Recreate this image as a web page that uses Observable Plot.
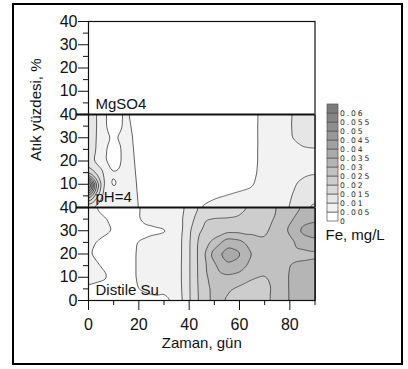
<!DOCTYPE html>
<html>
<head>
<meta charset="utf-8">
<script src="https://cdn.jsdelivr.net/npm/d3@7"></script>
<script src="https://cdn.jsdelivr.net/npm/@observablehq/plot@0.6"></script>
<style>
  body { margin: 0; background: #fff; }
  #wrap { position: relative; width: 408px; height: 369px; }
  #wrap > div.layer { position: absolute; left: 0; top: 0; }
  #border { position: absolute; left: 12px; top: 3px; width: 391px; height: 362px; border: 2px solid #000; box-sizing: border-box; pointer-events: none; }
  #legend g[aria-label="y-axis tick label"] text { letter-spacing: 1.9px; font-family: 'DejaVu Sans', sans-serif; }
</style>
</head>
<body>
<div id="wrap">
  <div class="layer" id="main"></div>
  <div class="layer" id="legend"></div>
  <div id="border"></div>
</div>
<script>
// ---- data ----
const panelNames = ["Distile Su", "pH=4", "MgSO4"];
const panelBase = [0, 40, 80];

const thresholds = [0.005, 0.01, 0.015, 0.02, 0.025, 0.03, 0.035, 0.04, 0.045, 0.05, 0.055, 0.06];
const legendLevels = [0, 0.005, 0.01, 0.015, 0.02, 0.025, 0.03, 0.035, 0.04, 0.045, 0.05, 0.055, 0.06];
const legendLabels = ["0", "0.005", "0.01", "0.015", "0.02", "0.025", "0.03", "0.035", "0.04", "0.045", "0.05", "0.055", "0.06"];

const yMajor = [0, 10, 20, 30, 40, 50, 60, 70, 80, 90, 100, 110, 120];
const yTickLabels = ["0", "10", "20", "30", "40", "10", "20", "30", "40", "10", "20", "30", "40"];
const yMinor = [5, 15, 25, 35, 45, 55, 65, 75, 85, 95, 105, 115];
const xMajor = [0, 20, 40, 60, 80];
const xTickLabels = ["0", "20", "40", "60", "80"];
const xMinor = [10, 30, 50, 70, 90];

const rowsY = [0, 5, 10, 15, 20, 25, 30, 35, 40];

// Distile Su (bottom panel): Fe, mg/L
const xBottom = [0, 5, 10, 15, 20, 25, 30, 34, 37, 40, 43, 46, 50, 55, 60, 65, 70, 75, 80, 85, 90];
const feBottom = [
  [0.0040, 0.0035, 0.0035, 0.0038, 0.0042, 0.0044, 0.0046, 0.0051, 0.0094, 0.0145, 0.0190, 0.0238, 0.0258, 0.0248, 0.0230, 0.0228, 0.0240, 0.0262, 0.0305, 0.0315, 0.0320],
  [0.0045, 0.0040, 0.0038, 0.0039, 0.0051, 0.0056, 0.0052, 0.0075, 0.0096, 0.0145, 0.0193, 0.0235, 0.0260, 0.0255, 0.0240, 0.0230, 0.0235, 0.0265, 0.0305, 0.0315, 0.0320],
  [0.0060, 0.0055, 0.0045, 0.0040, 0.0053, 0.0066, 0.0072, 0.0080, 0.0097, 0.0145, 0.0195, 0.0238, 0.0270, 0.0290, 0.0280, 0.0255, 0.0245, 0.0270, 0.0305, 0.0310, 0.0315],
  [0.0060, 0.0049, 0.0042, 0.0040, 0.0053, 0.0066, 0.0072, 0.0080, 0.0097, 0.0145, 0.0195, 0.0240, 0.0290, 0.0345, 0.0330, 0.0280, 0.0270, 0.0275, 0.0302, 0.0310, 0.0315],
  [0.0052, 0.0043, 0.0038, 0.0040, 0.0053, 0.0065, 0.0070, 0.0078, 0.0096, 0.0145, 0.0195, 0.0245, 0.0335, 0.0375, 0.0360, 0.0298, 0.0275, 0.0270, 0.0285, 0.0285, 0.0290],
  [0.0056, 0.0045, 0.0040, 0.0040, 0.0052, 0.0062, 0.0068, 0.0078, 0.0096, 0.0145, 0.0195, 0.0235, 0.0265, 0.0335, 0.0320, 0.0275, 0.0255, 0.0268, 0.0285, 0.0320, 0.0335],
  [0.0065, 0.0058, 0.0049, 0.0040, 0.0040, 0.0042, 0.0045, 0.0052, 0.0095, 0.0142, 0.0185, 0.0210, 0.0225, 0.0235, 0.0235, 0.0240, 0.0245, 0.0262, 0.0312, 0.0365, 0.0380],
  [0.0065, 0.0055, 0.0045, 0.0038, 0.0049, 0.0060, 0.0068, 0.0080, 0.0095, 0.0130, 0.0162, 0.0198, 0.0202, 0.0202, 0.0205, 0.0215, 0.0240, 0.0255, 0.0290, 0.0330, 0.0340],
  [0.0062, 0.0042, 0.0035, 0.0038, 0.0048, 0.0065, 0.0070, 0.0078, 0.0092, 0.0115, 0.0145, 0.0165, 0.0175, 0.0180, 0.0190, 0.0205, 0.0230, 0.0252, 0.0265, 0.0305, 0.0310]
];

// pH=4 (middle panel): Fe, mg/L
const xMiddle = [0, 2.5, 5, 7.5, 10, 12.5, 15, 17.5, 20, 25, 30, 35, 40, 45, 50, 55, 60, 65, 70, 75, 80, 85, 90];
const feMiddle = [
  [0.0090, 0.0080, 0.0062, 0.0044, 0.0052, 0.0058, 0.0066, 0.0060, 0.0049, 0.0030, 0.0028, 0.0028, 0.0030, 0.0052, 0.0058, 0.0060, 0.0062, 0.0065, 0.0068, 0.0085, 0.0101, 0.0135, 0.0170],
  [0.0300, 0.0180, 0.0110, 0.0065, 0.0060, 0.0062, 0.0065, 0.0059, 0.0047, 0.0030, 0.0028, 0.0028, 0.0030, 0.0040, 0.0047, 0.0051, 0.0055, 0.0060, 0.0068, 0.0080, 0.0098, 0.0112, 0.0125],
  [0.0620, 0.0300, 0.0145, 0.0060, 0.0042, 0.0056, 0.0064, 0.0058, 0.0045, 0.0030, 0.0028, 0.0028, 0.0028, 0.0030, 0.0035, 0.0038, 0.0042, 0.0046, 0.0068, 0.0078, 0.0095, 0.0105, 0.0112],
  [0.0190, 0.0148, 0.0120, 0.0058, 0.0052, 0.0056, 0.0063, 0.0057, 0.0042, 0.0028, 0.0026, 0.0026, 0.0026, 0.0028, 0.0030, 0.0032, 0.0035, 0.0040, 0.0066, 0.0076, 0.0088, 0.0095, 0.0098],
  [0.0125, 0.0095, 0.0065, 0.0045, 0.0028, 0.0048, 0.0062, 0.0055, 0.0040, 0.0026, 0.0025, 0.0025, 0.0025, 0.0026, 0.0028, 0.0030, 0.0033, 0.0038, 0.0065, 0.0075, 0.0085, 0.0090, 0.0092],
  [0.0155, 0.0105, 0.0068, 0.0048, 0.0030, 0.0048, 0.0062, 0.0053, 0.0038, 0.0025, 0.0025, 0.0025, 0.0025, 0.0026, 0.0028, 0.0030, 0.0033, 0.0038, 0.0065, 0.0075, 0.0090, 0.0095, 0.0097],
  [0.0158, 0.0108, 0.0070, 0.0056, 0.0044, 0.0056, 0.0062, 0.0051, 0.0035, 0.0025, 0.0025, 0.0025, 0.0025, 0.0026, 0.0028, 0.0030, 0.0034, 0.0037, 0.0066, 0.0076, 0.0097, 0.0115, 0.0120],
  [0.0160, 0.0110, 0.0072, 0.0045, 0.0030, 0.0045, 0.0060, 0.0047, 0.0032, 0.0025, 0.0025, 0.0025, 0.0025, 0.0026, 0.0028, 0.0030, 0.0034, 0.0037, 0.0066, 0.0076, 0.0097, 0.0120, 0.0122],
  [0.0160, 0.0110, 0.0072, 0.0045, 0.0030, 0.0045, 0.0058, 0.0042, 0.0030, 0.0025, 0.0025, 0.0025, 0.0025, 0.0026, 0.0028, 0.0030, 0.0034, 0.0037, 0.0065, 0.0075, 0.0096, 0.0118, 0.0122]
];

// ---- palette (style) ----
const grays = ["#ffffff", "#f2f2f2", "#e6e6e6", "#d9d9d9", "#cdcdcd", "#c1c1c1", "#b5b5b5",
               "#aaaaaa", "#a0a0a0", "#979797", "#8e8e8e", "#858585", "#7c7c7c"];

function toPoints(xs, grid, base) {
  const pts = [];
  grid.forEach((row, j) => row.forEach((v, i) => pts.push({x: xs[i], y: rowsY[j] + base, v})));
  return pts;
}
const bottomPts = toPoints(xBottom, feBottom, panelBase[0]);
const middlePts = toPoints(xMiddle, feMiddle, panelBase[1]);

const font = "'Liberation Sans', Arial, sans-serif";
const colorScale = {type: "threshold", domain: thresholds, range: grays};
const contourOpts = {x: "x", y: "y", fill: "v", thresholds, interpolate: "barycentric",
  pixelSize: 1, blur: 2, stroke: "#3a3a3a", strokeWidth: 0.8, x1: 0, x2: 90};

const main = Plot.plot({
  width: 408, height: 369,
  marginLeft: 88, marginRight: 93.5, marginTop: 21, marginBottom: 69,
  x: {domain: [0, 90], label: null},
  y: {domain: [0, 120], label: null},
  color: colorScale,
  style: {fontFamily: font, fontSize: "15px", color: "#111", background: "transparent"},
  marks: [
    Plot.contour(bottomPts, {...contourOpts, y1: panelBase[0], y2: panelBase[1]}),
    Plot.contour(middlePts, {...contourOpts, y1: panelBase[1], y2: panelBase[2]}),
    Plot.frame({stroke: "#111", strokeWidth: 1.2}),
    Plot.ruleY(panelBase.slice(1), {stroke: "#111", strokeWidth: 2.2}),
    Plot.axisY(yMajor, {tickSize: 10, tickPadding: 1, label: null, stroke: "#111", fontSize: 16,
      tickFormat: d => yTickLabels[yMajor.indexOf(d)]}),
    Plot.axisY(yMinor, {tickSize: 5, label: null, stroke: "#111", tickFormat: () => ""}),
    Plot.axisY(panelBase.slice(1), {tickSize: 12, strokeWidth: 2.2, label: null, stroke: "#111", tickFormat: () => ""}),
    Plot.axisX(xMajor, {tickSize: 10, tickPadding: 8, label: null, stroke: "#111", fontSize: 16,
      tickFormat: d => xTickLabels[xMajor.indexOf(d)]}),
    Plot.axisX(xMinor, {tickSize: 5, label: null, stroke: "#111", tickFormat: () => ""}),
    Plot.text(panelNames, {x: () => 0, y: (d, i) => panelBase[i], dx: 7, dy: -5.5,
      textAnchor: "start", lineAnchor: "bottom", fill: "#111"}),
    Plot.text(["Atık yüzdesi, %"], {frameAnchor: "left", rotate: -90, dx: -52, fill: "#111"}),
    Plot.text(["Zaman, gün"], {frameAnchor: "bottom", dy: 47, fill: "#111"})
  ]
});
document.getElementById("main").append(main);

const legend = Plot.plot({
  width: 408, height: 369,
  marginLeft: 327, marginRight: 70, marginTop: 104, marginBottom: 148,
  x: {domain: [0, 1], axis: null},
  y: {domain: [0, 0.065], axis: null},
  color: colorScale,
  style: {fontFamily: font, fontSize: "7.6px", color: "#222", background: "transparent"},
  marks: [
    Plot.rect(legendLevels, {x1: 0, x2: 1, y1: d => d,
      y2: (d, i) => (i + 1 < legendLevels.length ? legendLevels[i + 1] : 0.065),
      fill: d => d, stroke: "#555", strokeWidth: 0.7}),
    Plot.axisY(legendLevels, {anchor: "right", tickSize: 0, tickPadding: 1.5, label: null,
      tickFormat: d => legendLabels[legendLevels.indexOf(d)]}),
    Plot.text(["Fe, mg/L"], {frameAnchor: "bottom-left", dx: -2, dy: 8, textAnchor: "start",
      lineAnchor: "top", fontSize: 15, fill: "#111"})
  ]
});
document.getElementById("legend").append(legend);
</script>
</body>
</html>
